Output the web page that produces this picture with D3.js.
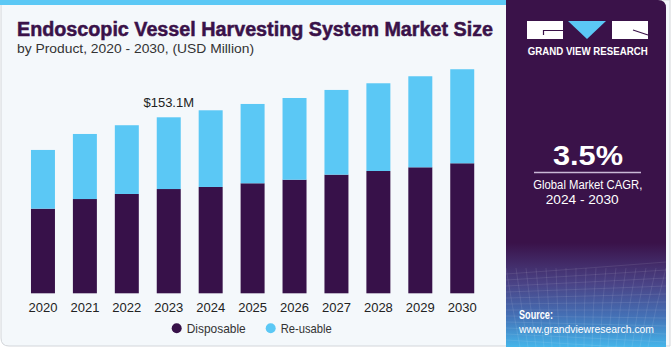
<!DOCTYPE html>
<html><head><meta charset="utf-8">
<script src="https://cdn.jsdelivr.net/npm/d3@7"></script>
<style>body{margin:0;background:#fff}svg{display:block}</style>
</head><body>
<svg id="c" width="671" height="350"></svg>
<script>
const years = ["2020","2021","2022","2023","2024","2025","2026","2027","2028","2029","2030"];
const disposable = [73.6, 82.0, 86.4, 90.7, 92.5, 95.7, 98.8, 103.2, 106.4, 109.6, 113.1];
const reusable = [51.1, 56.6, 59.8, 62.4, 66.7, 69.0, 71.1, 73.7, 76.3, 79.2, 81.8];
const seriesNames = ["Disposable", "Re-usable"];
const seriesColors = ["#371149", "#5bc8f5"];
const annotationYear = "2023";
const annotationText = "$153.1M";

const svg = d3.select("#c");
const font = "'Liberation Sans', Arial, sans-serif";

// background card
svg.append("path")
  .attr("d", "M1,0 H670 V346 H9 Q1,346 1,338 Z")
  .attr("fill", "#f4f8fb").attr("stroke", "#d3d6da").attr("stroke-width", 1);
svg.append("rect").attr("x", 0).attr("y", 0).attr("width", 506).attr("height", 5).attr("fill", "#5bc8f5");

// right panel
const defs = svg.append("defs");
const g1 = defs.append("linearGradient").attr("id", "pg").attr("x1", 0).attr("y1", 0).attr("x2", 0).attr("y2", 1);
g1.append("stop").attr("offset", "0").attr("stop-color", "#3a1249");
g1.append("stop").attr("offset", "0.7").attr("stop-color", "#3a1249");
g1.append("stop").attr("offset", "0.82").attr("stop-color", "#4a4487");
g1.append("stop").attr("offset", "0.91").attr("stop-color", "#4470b5");
g1.append("stop").attr("offset", "1").attr("stop-color", "#45b5ea");
svg.append("path")
  .attr("d", "M506,0 H658 Q666,0 666,8 V347 H506 Z")
  .attr("fill", "url(#pg)");

// faint mesh in source area
const mesh = svg.append("g").attr("stroke", "#ffffff").attr("stroke-opacity", 0.09).attr("fill", "none");
for (let i = 0; i < 12; i++) {
  mesh.append("path").attr("d", `M506,${274 + i * 6} Q590,${268 + i * 7} 666,${262 + i * 8}`);
}
for (let i = 0; i < 17; i++) {
  mesh.append("path").attr("d", `M${506 + i * 10},268 Q${512 + i * 9},305 ${520 + i * 8},347`);
}

// logo
const logo = svg.append("g");
logo.append("rect").attr("x", 527).attr("y", 21).attr("width", 36).attr("height", 18).attr("fill", "#fff");
logo.append("path").attr("d", "M563,30.5 H543.5 V35").attr("stroke", "#3a1249").attr("stroke-width", 1.2).attr("fill", "none");
logo.append("path").attr("d", "M568,21 H606 L587,39 Z").attr("fill", "#5bc8f5");
logo.append("rect").attr("x", 612).attr("y", 21).attr("width", 36).attr("height", 18).attr("fill", "#fff");
logo.append("path").attr("d", "M633,30 L648,35").attr("stroke", "#3a1249").attr("stroke-width", 1.2);
svg.append("text").attr("x", 527.7).attr("y", 55)
  .attr("font-family", font).attr("font-weight", "bold").attr("font-size", 10)
  .attr("textLength", 120).attr("lengthAdjust", "spacingAndGlyphs")
  .attr("fill", "#fff").text("GRAND VIEW RESEARCH");

// CAGR
svg.append("text").attr("x", 553).attr("y", 165)
  .attr("font-family", font).attr("font-weight", "bold").attr("font-size", 28)
  .attr("textLength", 70).attr("lengthAdjust", "spacingAndGlyphs").attr("fill", "#fff").text("3.5%");
svg.append("line").attr("x1", 534).attr("x2", 641).attr("y1", 172.5).attr("y2", 172.5)
  .attr("stroke", "#c9b8d6").attr("stroke-width", 1.3);
svg.append("text").attr("x", 533.3).attr("y", 189)
  .attr("font-family", font).attr("font-size", 12.5).attr("textLength", 109).attr("lengthAdjust", "spacingAndGlyphs")
  .attr("fill", "#fff").text("Global Market CAGR,");
svg.append("text").attr("x", 545.7).attr("y", 204)
  .attr("font-family", font).attr("font-size", 12.5).attr("textLength", 73).attr("lengthAdjust", "spacingAndGlyphs")
  .attr("fill", "#fff").text("2024 - 2030");

// source
svg.append("text").attr("x", 519).attr("y", 319).attr("font-family", font).attr("font-weight", "bold")
  .attr("font-size", 12).attr("textLength", 34).attr("lengthAdjust", "spacingAndGlyphs").attr("fill", "#fff").text("Source:");
svg.append("text").attr("x", 519).attr("y", 333).attr("font-family", font)
  .attr("font-size", 11.5).attr("fill", "#fff").attr("textLength", 135).attr("lengthAdjust", "spacingAndGlyphs")
  .text("www.grandviewresearch.com");

// title
svg.append("text").attr("x", 17).attr("y", 36).attr("font-family", font).attr("font-weight", "bold")
  .attr("font-size", 19.5).attr("fill", "#3a1249").attr("stroke", "#3a1249").attr("stroke-width", 0.5)
  .attr("textLength", 476).attr("lengthAdjust", "spacingAndGlyphs")
  .text("Endoscopic Vessel Harvesting System Market Size");
svg.append("text").attr("x", 17).attr("y", 53).attr("font-family", font)
  .attr("font-size", 13.5).attr("fill", "#333").attr("textLength", 237).attr("lengthAdjust", "spacingAndGlyphs")
  .text("by Product, 2020 - 2030, (USD Million)");

// chart
const data = years.map((y, i) => ({ year: y, Disposable: disposable[i], "Re-usable": reusable[i] }));
const stack = d3.stack().keys(seriesNames)(data);
const x = d3.scaleBand().domain(years).range([22, 483.2]).paddingInner(0.428).paddingOuter(0.214);
const y = d3.scaleLinear().domain([0, 153.1]).range([293.3, 117.3]);
const color = d3.scaleOrdinal().domain(seriesNames).range(seriesColors);

const gBars = svg.append("g");
gBars.selectAll("g").data(stack).join("g").attr("fill", d => color(d.key))
  .selectAll("rect").data(d => d).join("rect")
  .attr("x", d => x(d.data.year)).attr("width", x.bandwidth())
  .attr("y", d => y(d[1])).attr("height", d => y(d[0]) - y(d[1]));

const xAxis = svg.append("g").attr("transform", "translate(0,293.3)")
  .call(d3.axisBottom(x).tickSize(0).tickPadding(9));
xAxis.select(".domain").remove();
xAxis.selectAll("text").attr("font-family", font).attr("font-size", 13).attr("fill", "#222");

const ai = years.indexOf(annotationYear);
svg.append("text").attr("x", x(annotationYear) + x.bandwidth() / 2)
  .attr("y", y(disposable[ai] + reusable[ai]) - 10.5).attr("text-anchor", "middle")
  .attr("font-family", font).attr("font-size", 13).attr("fill", "#222").text(annotationText);

// legend
const legX = [176.7, 270.7];
const legW = [59, 51];
const leg = svg.append("g");
seriesNames.forEach((n, i) => {
  leg.append("circle").attr("cx", legX[i]).attr("cy", 328.3).attr("r", 5).attr("fill", color(n));
  leg.append("text").attr("x", legX[i] + 10).attr("y", 332.8).attr("font-family", font)
    .attr("font-size", 13).attr("textLength", legW[i]).attr("lengthAdjust", "spacingAndGlyphs")
    .attr("fill", "#333").text(n);
});
</script>
</body></html>
